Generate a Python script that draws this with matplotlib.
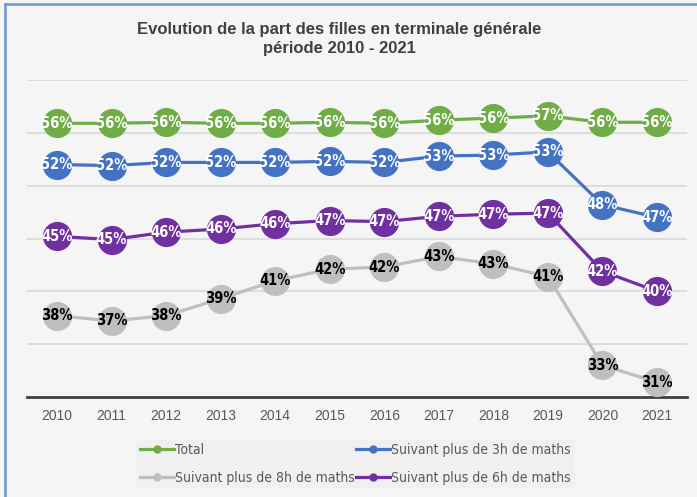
import matplotlib.pyplot as plt
from matplotlib.lines import Line2D

# donnees
annees = ["2010", "2011", "2012", "2013", "2014", "2015", "2016", "2017", "2018", "2019", "2020", "2021"]
total = [55.9, 55.9, 56.0, 55.9, 55.9, 56.0, 55.9, 56.2, 56.4, 56.6, 56.0, 56.0]
plus_3h = [52.0, 51.9, 52.2, 52.2, 52.2, 52.3, 52.2, 52.8, 52.9, 53.2, 48.2, 47.0]
plus_6h = [45.2, 44.9, 45.6, 45.9, 46.4, 46.7, 46.6, 47.1, 47.3, 47.4, 41.9, 40.0]
plus_8h = [37.7, 37.2, 37.7, 39.3, 41.0, 42.1, 42.3, 43.3, 42.6, 41.4, 33.0, 31.4]

series = [
    ("Total", total, "#70ad47", "white"),
    ("Suivant plus de 8h de maths", plus_8h, "#bfbfbf", "black"),
    ("Suivant plus de 3h de maths", plus_3h, "#4472c4", "white"),
    ("Suivant plus de 6h de maths", plus_6h, "#7030a0", "white"),
]

fond = "#f5f5f5"

fig = plt.figure(figsize=(6.97, 4.97), dpi=100, facecolor=fond)
ax = fig.add_axes([27 / 697, 100 / 497, 660 / 697, 317 / 497])
ax.set_facecolor(fond)

x = list(range(len(annees)))
handles = []
# ordre de dessin : gris en dessous
for nom, valeurs, couleur, couleur_txt in [series[1], series[3], series[2], series[0]]:
    ax.plot(x, valeurs, color=couleur, lw=2.3, marker="o", ms=21,
            markeredgewidth=0, zorder=3)
    for xi, v in zip(x, valeurs):
        ax.text(xi, v, f"{round(v):d}%", ha="center", va="center",
                color=couleur_txt, fontsize=10.5, fontweight="bold",
                family="DejaVu Sans", fontstretch="condensed", zorder=4)

for nom, valeurs, couleur, couleur_txt in series:
    handles.append(Line2D([0], [0], color=couleur, lw=2.3, marker="o", ms=5,
                          label=nom))

ax.set_ylim(30, 60)
ax.set_xlim(-0.55, 11.55)
ax.set_yticks([30, 35, 40, 45, 50, 55, 60])
ax.set_yticklabels([])
ax.tick_params(axis="y", length=0)
ax.grid(axis="y", color="#d9d9d9", lw=1.2, zorder=0)
ax.set_xticks(x)
ax.set_xticklabels(annees, fontsize=10, color="#595959", family="Liberation Sans")
ax.tick_params(axis="x", length=0, pad=9)
for cote in ["top", "right", "left"]:
    ax.spines[cote].set_visible(False)
ax.spines["bottom"].set_color("#404040")
ax.spines["bottom"].set_linewidth(2)

fig.text(0.487, 0.921, "Evolution de la part des filles en terminale générale\npériode 2010 - 2021",
         ha="center", va="center", fontsize=12, fontweight="bold",
         color="#404040", family="Liberation Sans", linespacing=1.3)

leg = fig.legend(handles=handles, ncol=2, loc="center", bbox_to_anchor=(0.51, 0.066),
                 frameon=True, columnspacing=0.1, handlelength=2.4,
                 handletextpad=0.1, labelspacing=1.0, borderpad=0.3,
                 prop={"family": "DejaVu Sans", "stretch": "condensed", "size": 10})
leg.get_frame().set_facecolor("#efefef")
leg.get_frame().set_edgecolor("none")
leg.get_frame().set_boxstyle("square", pad=0)
for t in leg.get_texts():
    t.set_color("#595959")

# bordure bleue (haut et gauche)
fig.add_artist(Line2D([5 / 697, 5 / 697], [0, 1 - 4 / 497], color="#6f93d8", lw=1.8))
fig.add_artist(Line2D([5 / 697, 1], [1 - 4 / 497, 1 - 4 / 497], color="#6f93d8", lw=1.8))

fig.savefig("out.png", dpi=100, facecolor=fond)
